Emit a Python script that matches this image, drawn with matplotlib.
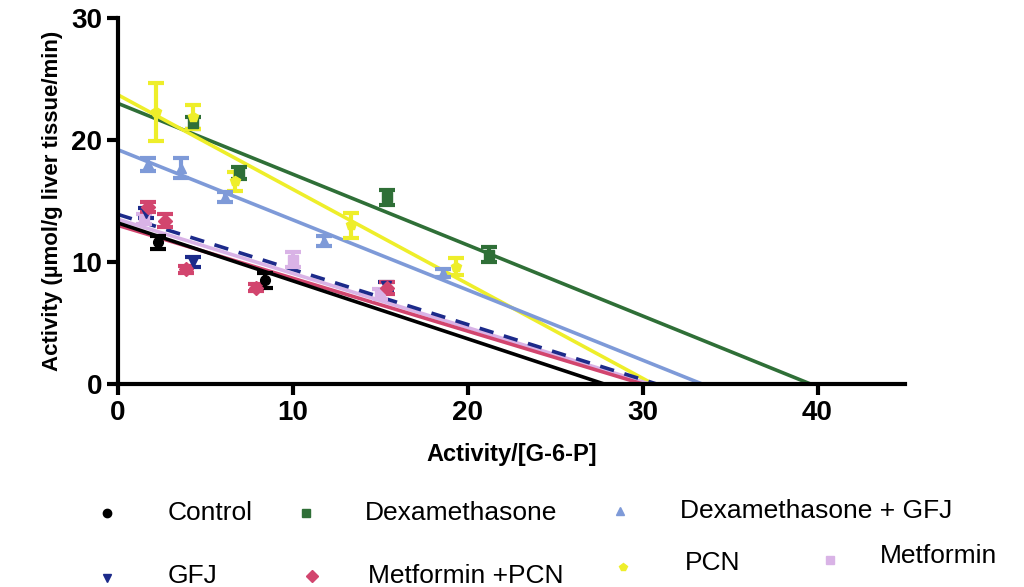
import numpy as np
import matplotlib.pyplot as plt
from matplotlib.lines import Line2D

plt.rcParams['font.family'] = ['Liberation Sans', 'DejaVu Sans']

# series: name -> (x, y, yerr)
control_x = [2.3, 8.4]
control_y = [11.6, 8.5]
control_e = [0.5, 0.6]

dex_x = [4.3, 6.9, 15.4, 21.2]
dex_y = [21.4, 17.3, 15.3, 10.6]
dex_e = [0.5, 0.5, 0.6, 0.6]

dexgfj_x = [1.7, 3.6, 6.1, 11.8, 18.6]
dexgfj_y = [18.0, 17.7, 15.3, 11.7, 9.1]
dexgfj_e = [0.5, 0.8, 0.4, 0.4, 0.3]

gfj_x = [1.6, 4.3, 15.3]
gfj_y = [14.0, 10.0, 8.0]
gfj_e = [0.4, 0.4, 0.4]

metpcn_x = [1.7, 2.7, 3.9, 7.9, 15.4]
metpcn_y = [14.5, 13.4, 9.4, 7.9, 7.9]
metpcn_e = [0.4, 0.5, 0.3, 0.3, 0.5]

pcn_x = [2.2, 4.3, 6.7, 13.3, 19.3]
pcn_y = [22.3, 21.9, 16.6, 13.0, 9.6]
pcn_e = [2.4, 1.0, 0.8, 1.0, 0.7]

met_x = [1.5, 10.0, 15.0]
met_y = [13.5, 10.2, 7.4]
met_e = [0.4, 0.6, 0.4]

# fitted lines: (y-intercept, x-intercept)
lines = {
    'Control': (13.2, 27.8),
    'Metformin +PCN': (13.0, 30.0),
    'Metformin': (13.5, 30.4),
    'GFJ': (13.9, 30.8),
    'Dexamethasone + GFJ': (19.2, 33.4),
    'PCN': (23.7, 30.6),
    'Dexamethasone': (23.0, 39.6),
}

series = [
    ('Control', control_x, control_y, control_e, 'black', 'o', '-'),
    ('Dexamethasone', dex_x, dex_y, dex_e, '#2f6f37', 's', '-'),
    ('Dexamethasone + GFJ', dexgfj_x, dexgfj_y, dexgfj_e, '#7e9ad8', '^', '-'),
    ('GFJ', gfj_x, gfj_y, gfj_e, '#1c2a8a', 'v', (0, (4, 3))),
    ('Metformin +PCN', metpcn_x, metpcn_y, metpcn_e, '#d2456e', 'D', '-'),
    ('PCN', pcn_x, pcn_y, pcn_e, '#eeee2a', 'p', '-'),
    ('Metformin', met_x, met_y, met_e, '#d9b3e6', 's', '-'),
]

fig = plt.figure(figsize=(10.24, 5.87), dpi=100)
ax = fig.add_axes([118 / 1024, 1 - 384 / 587, (905 - 118) / 1024, (384 - 18) / 587])

draw_order = ['Dexamethasone', 'PCN', 'Dexamethasone + GFJ', 'Metformin', 'GFJ',
              'Metformin +PCN', 'Control']
lookup = {s[0]: s for s in series}
for name in draw_order:
    _, xs, ys, es, col, mk, ls = lookup[name]
    b, xi = lines[name]
    ax.plot([0, xi], [b, 0], color=col, lw=2.6, ls=ls, zorder=2)
    ax.errorbar(xs, ys, yerr=es, fmt=mk, color=col, ms=7, capsize=6,
                elinewidth=3, capthick=3, zorder=3)

ax.set_xlim(0, 45)
ax.set_ylim(0, 30)
ax.set_xticks([0, 10, 20, 30, 40])
ax.set_yticks([0, 10, 20, 30])
ax.spines['top'].set_visible(False)
ax.spines['right'].set_visible(False)
ax.spines['left'].set_linewidth(3)
ax.spines['bottom'].set_linewidth(3)
ax.tick_params(width=3, length=8, labelsize=20)
for lab in ax.get_xticklabels() + ax.get_yticklabels():
    lab.set_fontweight('bold')
ax.set_xlabel('Activity/[G-6-P]', fontsize=17, fontweight='bold', labelpad=12)
ax.set_ylabel('Activity (µmol/g liver tissue/min)', fontsize=16,
              fontweight='bold', labelpad=6,
              family=['Liberation Sans Narrow', 'Liberation Sans', 'DejaVu Sans'])

# legend laid out below the plot, as in the figure
legend_pos = {
    'Control': (107, 513, 168, 513),
    'Dexamethasone': (306, 513, 365, 513),
    'Dexamethasone + GFJ': (620, 511, 680, 511),
    'GFJ': (107, 578, 168, 576),
    'Metformin +PCN': (312, 576, 368, 576),
    'PCN': (623, 567, 685, 563),
    'Metformin': (830, 560, 880, 556),
}
for name, (mx, my, tx, ty) in legend_pos.items():
    _, _, _, _, col, mk, _ = lookup[name]
    fig.add_artist(Line2D([mx / 1024], [1 - my / 587], marker=mk, color=col,
                          ms=6, transform=fig.transFigure, ls='none'))
    fig.text(tx / 1024, 1 - ty / 587, name, fontsize=19, va='center', ha='left')

fig.savefig('out.png', dpi=100)
